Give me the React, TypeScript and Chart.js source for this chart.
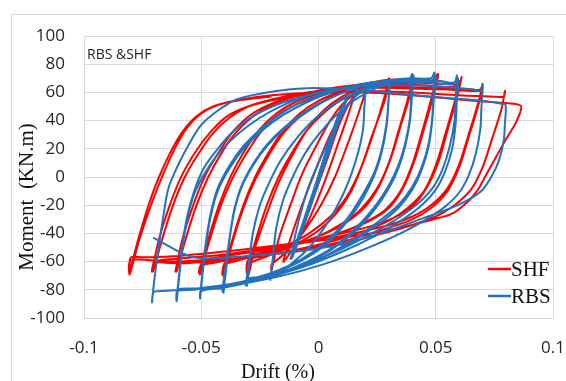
import { useEffect, useRef } from 'react';
import { Chart, registerables } from 'chart.js';

Chart.register(...registerables);

type Pt = [number, number];

const seriesNames = ['SHF', 'RBS'];
const driftTickLabels = ['-0.1', '-0.05', '0', '0.05', '0.1'];
const momentMin = -100;
const momentMax = 100;
const momentStep = 20;
const driftMin = -0.1;
const driftMax = 0.1;
const driftStep = 0.05;

// ---------- SHF (red) cycles: [drift, moment] ----------
const shfElastic: Pt[] = [
  [0, 0], [0.004, 22], [0.001, 6], [-0.003, -16], [-0.005, -27], [-0.002, -12], [0.003, 14],
  [0.008, 40], [0.01, 49], [0.007, 34], [0.002, 8], [-0.004, -22], [-0.008, -42], [-0.01, -52],
];
const shf015: Pt[] = [
  [-0.007, -38], [-0.002, -14], [0.004, 14], [0.009, 38], [0.013, 52], [0.015, 57], [0.013, 46],
  [0.008, 22], [0.002, -6], [-0.004, -30], [-0.009, -46], [-0.013, -56], [-0.015, -60],
];
const shf020: Pt[] = [
  [-0.012, -44], [-0.007, -20], [-0.001, 6], [0.005, 30], [0.011, 48], [0.016, 58], [0.02, 63],
  [0.018, 50], [0.013, 26], [0.007, 0], [0.001, -20], [-0.006, -38], [-0.012, -50], [-0.017, -58],
  [-0.02, -62], [-0.02, -66],
];
const shf030a: Pt[] = [
  [-0.017, -44], [-0.012, -20], [-0.007, 2], [-0.001, 22], [0.005, 40], [0.011, 53], [0.018, 62],
  [0.025, 66], [0.029, 67], [0.03, 70], [0.028, 56], [0.024, 34], [0.019, 10], [0.014, -10],
  [0.008, -25], [0, -38], [-0.01, -48], [-0.02, -55], [-0.028, -60], [-0.03, -62], [-0.03, -70],
];
const shf030b: Pt[] = [
  [-0.027, -50], [-0.022, -26], [-0.017, -4], [-0.011, 16], [-0.005, 33], [0.002, 47], [0.01, 57],
  [0.018, 63], [0.026, 66], [0.03, 66], [0.0305, 69], [0.028, 53], [0.023, 30], [0.018, 6],
  [0.012, -14], [0.005, -28], [-0.004, -40], [-0.014, -49], [-0.024, -56], [-0.03, -59], [-0.0305, -68],
];
const shf040a: Pt[] = [
  [-0.027, -46], [-0.022, -20], [-0.017, 0], [-0.011, 18], [-0.005, 33], [0.002, 45], [0.01, 55],
  [0.02, 63], [0.03, 67], [0.038, 68], [0.0405, 71], [0.039, 58], [0.035, 36], [0.031, 14],
  [0.026, -6], [0.02, -21], [0.012, -32], [0.003, -40], [-0.008, -47], [-0.02, -53], [-0.032, -58],
  [-0.04, -61], [-0.0405, -70],
];
const shf040b: Pt[] = [
  [-0.037, -48], [-0.032, -22], [-0.027, -2], [-0.021, 16], [-0.015, 31], [-0.008, 43], [0, 52],
  [0.01, 60], [0.02, 65], [0.03, 67], [0.039, 67], [0.04, 70], [0.038, 55], [0.034, 32], [0.03, 10],
  [0.025, -8], [0.018, -23], [0.01, -33], [0, -42], [-0.012, -49], [-0.025, -55], [-0.036, -60],
  [-0.04, -62], [-0.041, -69],
];
const shf050a: Pt[] = [
  [-0.037, -46], [-0.032, -20], [-0.027, 0], [-0.021, 18], [-0.015, 33], [-0.008, 45], [0, 54],
  [0.01, 61], [0.02, 66], [0.03, 69], [0.04, 69], [0.048, 68], [0.051, 73], [0.049, 58], [0.045, 34],
  [0.041, 12], [0.036, -8], [0.03, -22], [0.022, -31], [0.012, -38], [0, -44], [-0.015, -50],
  [-0.03, -56], [-0.045, -61], [-0.05, -63], [-0.0505, -69],
];
const shf050b: Pt[] = [
  [-0.047, -48], [-0.042, -22], [-0.037, -2], [-0.031, 16], [-0.025, 31], [-0.018, 43], [-0.01, 51],
  [0, 57], [0.012, 63], [0.025, 67], [0.038, 68], [0.049, 67], [0.0505, 71], [0.048, 55], [0.044, 31],
  [0.04, 9], [0.035, -10], [0.028, -24], [0.02, -32], [0.01, -39], [-0.003, -45], [-0.018, -51],
  [-0.033, -57], [-0.046, -61], [-0.05, -62], [-0.051, -68],
];
const shf060a: Pt[] = [
  [-0.047, -44], [-0.042, -18], [-0.037, 2], [-0.031, 20], [-0.025, 34], [-0.018, 45], [-0.01, 53],
  [0, 59], [0.012, 64], [0.025, 67], [0.04, 67], [0.055, 66], [0.06, 66], [0.061, 71], [0.059, 56],
  [0.055, 33], [0.051, 10], [0.046, -8], [0.04, -21], [0.032, -29], [0.022, -35], [0.01, -40],
  [-0.005, -46], [-0.02, -51], [-0.035, -55], [-0.05, -59], [-0.06, -61], [-0.0605, -67],
];
const shf060b: Pt[] = [
  [-0.057, -46], [-0.052, -20], [-0.047, 0], [-0.041, 18], [-0.035, 32], [-0.028, 43], [-0.02, 51],
  [-0.01, 57], [0.002, 62], [0.015, 65], [0.03, 66], [0.045, 65], [0.058, 64], [0.06, 68], [0.058, 53],
  [0.054, 30], [0.05, 8], [0.045, -10], [0.038, -22], [0.03, -31], [0.02, -38], [0.007, -45],
  [-0.008, -51], [-0.024, -56], [-0.04, -59], [-0.055, -61], [-0.06, -62], [-0.061, -67],
];
const shf070a: Pt[] = [
  [-0.058, -44], [-0.053, -18], [-0.048, 2], [-0.042, 19], [-0.036, 33], [-0.029, 44], [-0.02, 52],
  [-0.01, 57], [0.003, 62], [0.018, 65], [0.035, 64], [0.05, 63], [0.065, 62], [0.069, 62], [0.07, 66],
  [0.068, 52], [0.064, 30], [0.06, 9], [0.055, -8], [0.048, -20], [0.04, -28], [0.03, -34],
  [0.015, -40], [0, -45], [-0.02, -50], [-0.04, -55], [-0.06, -58], [-0.07, -60], [-0.0705, -67],
];
const shf070b: Pt[] = [
  [-0.067, -46], [-0.062, -20], [-0.057, 0], [-0.051, 17], [-0.045, 31], [-0.038, 42], [-0.03, 50],
  [-0.02, 55], [-0.005, 60], [0.015, 63], [0.035, 63], [0.055, 62], [0.068, 61], [0.07, 64], [0.068, 50],
  [0.064, 28], [0.06, 7], [0.055, -10], [0.048, -22], [0.04, -30], [0.028, -37], [0.012, -45],
  [-0.005, -51], [-0.025, -56], [-0.045, -59], [-0.062, -61], [-0.07, -61], [-0.071, -67],
];
const shf080: Pt[] = [
  [-0.068, -44], [-0.063, -18], [-0.058, 2], [-0.052, 19], [-0.046, 32], [-0.039, 43], [-0.03, 50],
  [-0.018, 55], [0, 59], [0.02, 61], [0.04, 60], [0.06, 58], [0.075, 57], [0.079, 57], [0.0795, 61],
  [0.078, 48], [0.074, 27], [0.07, 7], [0.065, -9], [0.058, -20], [0.05, -28], [0.04, -34],
  [0.025, -41], [0.005, -49], [-0.02, -55], [-0.045, -59], [-0.065, -60], [-0.08, -59], [-0.0805, -69],
];
const shf087: Pt[] = [
  [-0.0765, -45], [-0.071, -18], [-0.066, 3], [-0.061, 21], [-0.056, 35], [-0.05, 45], [-0.043, 51],
  [-0.033, 55], [-0.02, 58], [0, 60], [0.02, 60], [0.04, 58], [0.06, 55], [0.075, 53], [0.083, 52],
  [0.0865, 50], [0.084, 38], [0.08, 27], [0.077, 18], [0.071, 0], [0.068, -9], [0.064, -17],
  [0.057, -26], [0.049, -30], [0.035, -36], [0.015, -42], [-0.01, -47], [-0.035, -52], [-0.06, -56],
  [-0.075, -57], [-0.08, -57], [-0.0805, -66],
];
const shfFinal: Pt[] = [
  [-0.077, -45], [-0.0725, -20], [-0.068, 0], [-0.063, 18], [-0.058, 32], [-0.052, 43], [-0.045, 50],
  [-0.035, 54], [-0.02, 57],
];

// ---------- RBS (blue) cycles: [drift, moment] ----------
const rbsElastic: Pt[] = [
  [0, 0], [0.005, 25], [0.002, 10], [-0.004, -20], [-0.006, -30], [-0.002, -10], [0.004, 22],
  [0.008, 42], [0.01, 50], [0.007, 36], [0.001, 6], [-0.005, -26], [-0.009, -46], [-0.011, -56],
  [-0.008, -40], [-0.002, -10], [0.004, 20], [0.009, 44], [0.012, 56], [0.009, 42], [0.003, 12],
  [-0.003, -18], [-0.008, -42], [-0.012, -58], [-0.009, -44], [-0.003, -14], [0.003, 16], [0.008, 40],
  [0.0125, 57], [0.01, 46], [0.004, 16], [-0.002, -14], [-0.007, -38], [-0.0115, -58],
];
const rbs020: Pt[] = [
  [-0.01, -42], [-0.007, -22], [-0.004, -6], [0, 10], [0.005, 28], [0.01, 44], [0.015, 56],
  [0.019, 61], [0.02, 63], [0.0195, 48], [0.019, 34], [0.017, 18], [0.014, 2], [0.01, -14],
  [0.004, -32], [-0.004, -50], [-0.012, -62], [-0.018, -68], [-0.02, -69], [-0.0205, -73],
];
const rbs030a: Pt[] = [
  [-0.0195, -58], [-0.018, -36], [-0.015, -16], [-0.011, 0], [-0.006, 16], [0, 30], [0.007, 43],
  [0.014, 53], [0.021, 60], [0.027, 65], [0.03, 66], [0.0305, 69], [0.0298, 54], [0.029, 38],
  [0.027, 20], [0.024, 4], [0.019, -12], [0.012, -30], [0.003, -46], [-0.007, -58], [-0.017, -66],
  [-0.026, -71], [-0.03, -72], [-0.0305, -77],
];
const rbs030b: Pt[] = [
  [-0.0295, -62], [-0.028, -40], [-0.025, -20], [-0.021, -4], [-0.016, 12], [-0.01, 26], [-0.003, 39],
  [0.005, 50], [0.013, 58], [0.021, 63], [0.028, 66], [0.03, 67], [0.0298, 52], [0.029, 36],
  [0.027, 18], [0.024, 2], [0.019, -15], [0.012, -32], [0.003, -48], [-0.008, -60], [-0.019, -68],
  [-0.028, -72], [-0.03, -73], [-0.031, -77],
];
const rbs040a: Pt[] = [
  [-0.0298, -62], [-0.028, -40], [-0.025, -20], [-0.021, -4], [-0.016, 12], [-0.01, 26], [-0.003, 39],
  [0.005, 50], [0.014, 58], [0.024, 64], [0.034, 68], [0.039, 70], [0.04, 73], [0.0395, 58],
  [0.039, 42], [0.037, 24], [0.034, 8], [0.03, -6], [0.024, -21], [0.016, -36], [0.006, -50],
  [-0.006, -61], [-0.018, -69], [-0.03, -74], [-0.038, -77], [-0.04, -78], [-0.0405, -82],
];
const rbs040b: Pt[] = [
  [-0.0395, -67], [-0.038, -45], [-0.036, -25], [-0.033, -8], [-0.028, 8], [-0.022, 22], [-0.014, 35],
  [-0.005, 46], [0.004, 55], [0.014, 62], [0.025, 67], [0.035, 69], [0.04, 69], [0.0405, 72],
  [0.0398, 56], [0.039, 40], [0.037, 22], [0.034, 6], [0.03, -8], [0.024, -23], [0.016, -38],
  [0.005, -52], [-0.008, -63], [-0.021, -71], [-0.033, -76], [-0.04, -78], [-0.041, -81],
];
const rbs050a: Pt[] = [
  [-0.0398, -66], [-0.038, -44], [-0.036, -24], [-0.033, -7], [-0.028, 9], [-0.022, 23], [-0.014, 36],
  [-0.005, 47], [0.005, 56], [0.016, 63], [0.028, 68], [0.04, 70], [0.048, 70], [0.0495, 74],
  [0.049, 58], [0.0485, 42], [0.047, 24], [0.044, 7], [0.04, -7], [0.034, -20], [0.026, -31],
  [0.016, -43], [0.004, -55], [-0.01, -65], [-0.025, -73], [-0.04, -78], [-0.048, -80], [-0.05, -81],
  [-0.0505, -86],
];
const rbs050b: Pt[] = [
  [-0.0495, -70], [-0.048, -48], [-0.046, -28], [-0.043, -10], [-0.038, 6], [-0.032, 20], [-0.024, 33],
  [-0.015, 44], [-0.005, 53], [0.007, 61], [0.02, 66], [0.035, 68], [0.048, 68], [0.05, 71],
  [0.0492, 56], [0.0485, 40], [0.047, 22], [0.044, 5], [0.04, -9], [0.034, -22], [0.026, -33],
  [0.015, -45], [0.002, -57], [-0.013, -67], [-0.028, -74], [-0.042, -79], [-0.05, -80], [-0.0505, -85],
];
const rbs060a: Pt[] = [
  [-0.0495, -68], [-0.048, -46], [-0.046, -26], [-0.043, -8], [-0.038, 8], [-0.032, 22], [-0.024, 35],
  [-0.015, 46], [-0.005, 55], [0.008, 62], [0.022, 67], [0.038, 69], [0.052, 68], [0.058, 67],
  [0.059, 72], [0.0585, 56], [0.058, 40], [0.056, 22], [0.053, 6], [0.049, -7], [0.043, -18],
  [0.035, -28], [0.024, -39], [0.01, -51], [-0.006, -62], [-0.022, -70], [-0.038, -76], [-0.052, -79],
  [-0.06, -80], [-0.0605, -88],
];
const rbs060b: Pt[] = [
  [-0.0595, -72], [-0.058, -50], [-0.056, -30], [-0.053, -12], [-0.048, 4], [-0.042, 18], [-0.034, 31],
  [-0.025, 42], [-0.015, 51], [-0.002, 59], [0.013, 64], [0.03, 67], [0.046, 67], [0.057, 66],
  [0.0595, 70], [0.059, 55], [0.0585, 38], [0.057, 20], [0.054, 4], [0.05, -9], [0.044, -20],
  [0.036, -30], [0.025, -41], [0.01, -53], [-0.007, -64], [-0.024, -72], [-0.04, -77], [-0.054, -80],
  [-0.06, -81], [-0.0605, -87],
];
const rbs070: Pt[] = [
  [-0.0595, -70], [-0.058, -48], [-0.056, -28], [-0.053, -10], [-0.049, 6], [-0.043, 20], [-0.036, 33],
  [-0.027, 44], [-0.015, 53], [0, 60], [0.016, 64], [0.034, 65], [0.052, 64], [0.066, 62], [0.069, 61],
  [0.07, 65], [0.0695, 50], [0.069, 34], [0.067, 16], [0.064, 1], [0.06, -11], [0.054, -21],
  [0.046, -30], [0.035, -40], [0.02, -51], [0.002, -62], [-0.018, -71], [-0.038, -77], [-0.058, -80],
  [-0.069, -81], [-0.0705, -82], [-0.071, -89],
];
const rbs080: Pt[] = [
  [-0.07, -73], [-0.068, -48], [-0.066, -26], [-0.064, -8], [-0.06, 8], [-0.055, 24], [-0.05, 37],
  [-0.043, 47], [-0.035, 55], [-0.022, 60], [-0.005, 63], [0.015, 62], [0.035, 59], [0.055, 56],
  [0.07, 54], [0.078, 52], [0.0798, 51], [0.0795, 38], [0.079, 26], [0.077, 12], [0.074, 1],
  [0.07, -9], [0.064, -16], [0.055, -23], [0.045, -29], [0.03, -38], [0.012, -47], [-0.01, -53],
  [-0.03, -56], [-0.053, -57], [-0.0705, -43],
];

const shfPoints: Pt[] = [
  ...shfElastic, ...shf015, ...shf020, ...shf030a, ...shf030b, ...shf040a, ...shf040b,
  ...shf050a, ...shf050b, ...shf060a, ...shf060b, ...shf070a, ...shf070b, ...shf080, ...shf087,
  ...shfFinal,
];
const rbsPoints: Pt[] = [
  ...rbsElastic, ...rbs020, ...rbs030a, ...rbs030b, ...rbs040a, ...rbs040b, ...rbs050a,
  ...rbs050b, ...rbs060a, ...rbs060b, ...rbs070, ...rbs080,
];

const RED = '#ff0000';
const BLUE = '#2272c0';
const GRID = '#d9d9d9';

const decorations = {
  id: 'decorations',
  beforeDraw(chart: any) {
    const ctx = chart.ctx;
    ctx.save();
    ctx.fillStyle = '#ffffff';
    ctx.fillRect(0, 0, chart.width, chart.height);
    ctx.strokeStyle = GRID;
    ctx.lineWidth = 1;
    ctx.strokeRect(11.5, 14.5, 700, 500);
    ctx.restore();
  },
  afterDraw(chart: any) {
    const ctx = chart.ctx;
    const area = chart.chartArea;
    ctx.save();
    ctx.fillStyle = '#262626';
    ctx.font = '14px "Open Sans"';
    ctx.textAlign = 'left';
    ctx.textBaseline = 'alphabetic';
    ctx.fillText('RBS &SHF', area.left + 3, area.top + 23);
    const colors = [RED, BLUE];
    ctx.font = '21px "Liberation Serif"';
    seriesNames.forEach((name, i) => {
      const y = 269 + i * 27;
      ctx.strokeStyle = colors[i];
      ctx.lineWidth = 2.5;
      ctx.beginPath();
      ctx.moveTo(488, y);
      ctx.lineTo(511, y);
      ctx.stroke();
      ctx.fillStyle = '#111111';
      ctx.textBaseline = 'middle';
      ctx.fillText(name, 511, y + 1);
    });
    ctx.fillStyle = '#111111';
    ctx.font = '20px "Liberation Serif"';
    ctx.textAlign = 'center';
    ctx.textBaseline = 'alphabetic';
    ctx.fillText('Drift (%)', 278, 378);
    ctx.translate(33, 197);
    ctx.rotate(-Math.PI / 2);
    ctx.font = '21px "Liberation Serif"';
    ctx.fillText('Moment  (KN.m)', 0, 0);
    ctx.restore();
  },
};

export default function App() {
  const canvasRef = useRef<HTMLCanvasElement | null>(null);

  useEffect(() => {
    if (!canvasRef.current) return;
    const chart = new Chart(canvasRef.current, {
      type: 'scatter',
      data: {
        datasets: [
          {
            label: seriesNames[0],
            data: shfPoints.map(([x, y]) => ({ x, y })),
            showLine: true,
            borderColor: RED,
            backgroundColor: RED,
            borderWidth: 2,
            pointRadius: 0,
            tension: 0.3,
            order: 2,
          },
          {
            label: seriesNames[1],
            data: rbsPoints.map(([x, y]) => ({ x, y })),
            showLine: true,
            borderColor: BLUE,
            backgroundColor: BLUE,
            borderWidth: 2,
            pointRadius: 0,
            tension: 0.3,
            order: 1,
          },
        ],
      },
      options: {
        animation: false,
        responsive: false,
        devicePixelRatio: 1,
        layout: { autoPadding: false, padding: { left: 0, top: 36, right: 13, bottom: 0 } },
        plugins: { legend: { display: false }, tooltip: { enabled: false } },
        scales: {
          x: {
            type: 'linear',
            min: driftMin,
            max: driftMax,
            afterFit: (s: any) => {
              s.height = 63;
              s.paddingLeft = 0;
              s.paddingRight = 0;
            },
            grid: { color: GRID, drawTicks: false },
            border: { color: GRID },
            ticks: {
              stepSize: driftStep,
              padding: 20,
              maxRotation: 0,
              autoSkip: false,
              color: '#262626',
              font: { family: '"Open Sans"', size: 17 },
              callback: (v: any) => {
                const i = Math.round((Number(v) - driftMin) / driftStep);
                return driftTickLabels[i] ?? '';
              },
            },
          },
          y: {
            type: 'linear',
            min: momentMin,
            max: momentMax,
            afterFit: (s: any) => {
              s.width = 84;
              s.paddingTop = 0;
              s.paddingBottom = 0;
            },
            grid: { color: GRID, drawTicks: false },
            border: { color: GRID },
            ticks: {
              stepSize: momentStep,
              padding: 19,
              color: '#262626',
              font: { family: '"Open Sans"', size: 17 },
            },
          },
        },
      },
      plugins: [decorations],
    } as any);
    return () => chart.destroy();
  }, []);

  return (
    <div style={{ position: 'absolute', left: 0, top: 0, width: 566, height: 381, background: '#fff' }}>
      <canvas ref={canvasRef} width={566} height={381} style={{ display: 'block' }} />
    </div>
  );
}
